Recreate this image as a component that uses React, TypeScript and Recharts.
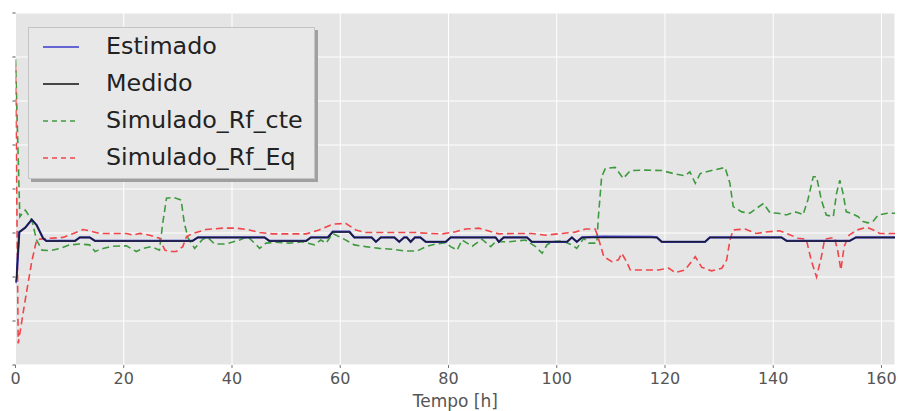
import React from 'react';
import { LineChart, Line, XAxis, YAxis, CartesianGrid, Legend } from 'recharts';

const xTicks = [0, 20, 40, 60, 80, 100, 120, 140, 160];
const yTicks = [0, 1, 2, 3, 4, 5, 6, 7, 8];

const medido: [number, number][] = [
  [0, 1.88], [0.2, 2.0], [0.7, 3.02], [1.8, 3.12], [3.0, 3.31], [3.9, 3.18], [5.1, 2.88], [5.7, 2.82],
  [11.0, 2.82], [11.9, 2.9], [13.7, 2.9], [14.7, 2.82], [32.7, 2.82], [33.7, 2.9], [46, 2.9], [46.9, 2.82],
  [53.7, 2.82], [54.6, 2.9], [57.7, 2.9], [58.6, 3.02], [61.7, 3.02], [62.6, 2.9], [65.8, 2.9], [66.6, 2.8],
  [67.5, 2.9], [70.0, 2.9], [70.9, 2.8], [71.8, 2.9], [72.3, 2.9], [73.0, 2.8], [73.8, 2.9], [74.8, 2.9],
  [75.8, 2.8], [79.5, 2.8], [80.4, 2.9], [88.7, 2.9], [89.3, 2.8], [90.2, 2.9], [94.5, 2.9], [95.4, 2.8],
  [101.9, 2.8], [102.8, 2.9], [103.7, 2.8], [104.7, 2.9], [118.5, 2.9], [119.4, 2.8], [127.4, 2.8], [128.3, 2.9],
  [141.5, 2.9], [142.5, 2.82], [154.1, 2.82], [155.3, 2.9], [162.5, 2.9],
];

const estimado: [number, number][] = [
  [0, 1.86], [0.2, 2.0], [0.7, 3.02], [1.8, 3.12], [3.0, 3.3], [3.9, 3.18], [5.1, 2.88], [5.7, 2.82],
  [11.0, 2.82], [11.9, 2.9], [13.7, 2.9], [14.7, 2.82], [32.7, 2.82], [33.7, 2.9], [46, 2.9], [46.9, 2.82],
  [53.7, 2.82], [54.6, 2.9], [57.7, 2.9], [58.6, 3.03], [61.7, 3.03], [62.6, 2.9], [65.8, 2.9], [66.6, 2.8],
  [67.5, 2.9], [70.0, 2.9], [70.9, 2.8], [71.8, 2.9], [72.3, 2.9], [73.0, 2.8], [73.8, 2.9], [74.8, 2.9],
  [75.8, 2.8], [79.5, 2.8], [80.4, 2.9], [88.7, 2.9], [89.3, 2.8], [90.2, 2.9], [94.5, 2.9], [95.4, 2.8],
  [101.9, 2.8], [102.8, 2.9], [103.7, 2.8], [104.7, 2.9], [108.5, 2.92], [117.5, 2.91], [118.5, 2.9], [119.4, 2.8],
  [127.4, 2.8], [128.3, 2.9], [141.5, 2.9], [142.5, 2.82], [154.1, 2.82], [155.3, 2.9], [162.5, 2.9],
];

const simRfCte: [number, number][] = [
  [0, 6.95], [0.8, 3.37], [1.8, 3.52], [3.0, 3.3], [3.9, 2.84], [4.9, 2.61], [6.4, 2.6], [8.2, 2.65],
  [10, 2.73], [11.9, 2.75], [13.7, 2.73], [14.7, 2.58], [16.2, 2.65], [18, 2.7], [20.5, 2.71], [22.3, 2.58],
  [23.6, 2.65], [25.1, 2.69], [26.6, 2.61], [27.2, 3.22], [27.9, 3.79], [29.1, 3.81], [30.6, 3.75], [31.2, 3.22],
  [31.9, 2.88], [33.1, 2.65], [34.6, 2.86], [35.5, 2.9], [36.8, 2.75], [38.9, 2.75], [41.4, 2.84], [42.9, 2.92],
  [44.5, 2.73], [45.1, 2.65], [46.3, 2.77], [48.1, 2.79], [50.6, 2.77], [53.1, 2.8], [55.2, 2.73], [56.4, 2.84],
  [57.4, 2.77], [58.6, 2.99], [60.7, 2.86], [62.6, 2.73], [64.7, 2.69], [67.2, 2.65], [69.6, 2.63], [72.1, 2.59],
  [74.2, 2.59], [75.8, 2.69], [77.6, 2.75], [79.5, 2.78], [80.4, 2.69], [81.6, 2.61], [82.5, 2.84], [84.4, 2.7],
  [86.2, 2.86], [87.8, 2.69], [88.7, 2.8], [91.2, 2.8], [94.2, 2.84], [96.1, 2.69], [97.3, 2.54], [98.2, 2.73],
  [99.1, 2.8], [101, 2.82], [102.8, 2.73], [103.7, 2.65], [105, 2.88], [105.9, 2.77], [107.4, 2.77], [107.7, 3.37],
  [108.3, 4.28], [109, 4.47], [110.8, 4.49], [112.3, 4.24], [113.6, 4.42], [116.3, 4.43], [119.4, 4.42], [121.9, 4.34],
  [123.7, 4.3], [124.6, 4.39], [125.6, 4.13], [126.5, 4.35], [128.6, 4.42], [131.1, 4.49], [132, 4.13], [132.6, 3.6],
  [134.2, 3.48], [135.7, 3.45], [136.9, 3.56], [138.2, 3.67], [139.4, 3.46], [140.9, 3.45], [142.4, 3.41], [144, 3.48],
  [144.9, 3.45], [145.5, 3.41], [146.4, 3.75], [147.4, 4.28], [148, 4.28], [148.9, 3.75], [149.8, 3.41], [151.1, 3.37],
  [151.7, 3.9], [152.3, 4.2], [152.9, 3.9], [153.5, 3.48], [154.4, 3.45], [155.7, 3.37], [156.6, 3.26], [157.5, 3.23],
  [158.4, 3.26], [159.4, 3.41], [161.1, 3.45], [162.5, 3.45],
];

const simRfEq: [number, number][] = [
  [0, 6.8], [0.5, 0.49], [1.8, 1.48], [3, 2.35], [3.9, 2.84], [4.5, 2.86], [6.4, 2.88], [8.8, 2.9],
  [10.7, 2.99], [12.5, 3.08], [14.3, 3.03], [15.6, 2.99], [18, 2.99], [20.5, 2.99], [21.7, 2.95], [23, 2.99],
  [24.8, 2.95], [26.6, 2.88], [27.6, 2.61], [28.5, 2.58], [29.7, 2.58], [30.9, 2.69], [31.6, 2.92], [32.8, 2.99],
  [35.2, 3.08], [38.3, 3.11], [40.8, 3.11], [43.2, 3.07], [45.1, 3.01], [47.5, 2.98], [50.6, 2.98], [53.7, 2.98],
  [56.1, 3.07], [58.6, 3.2], [61, 3.22], [62.9, 3.07], [64.7, 3.01], [69, 3.01], [74, 3.01], [76.4, 2.99],
  [78.9, 2.98], [81.3, 3.03], [83.2, 3.09], [85.6, 3.11], [88.1, 3.02], [89.3, 2.98], [92.4, 2.99], [95.4, 2.99],
  [97.9, 2.95], [101, 2.99], [103.4, 3.02], [105.3, 3.09], [107.1, 3.09], [107.7, 2.88], [108.7, 2.46], [110.2, 2.35],
  [111.4, 2.39], [112, 2.54], [112.9, 2.35], [113.6, 2.16], [116.3, 2.16], [118.8, 2.16], [120.7, 2.2], [121.9, 2.1],
  [123.7, 2.16], [125.6, 2.46], [126.8, 2.22], [128.6, 2.14], [130.5, 2.2], [131.4, 2.39], [132, 2.84], [132.6, 3.07],
  [134.8, 3.09], [136.9, 2.99], [139.1, 3.03], [141.2, 3.05], [142.5, 2.99], [144.6, 2.88], [146.1, 2.86], [147, 2.39],
  [148, 2.0], [148.9, 2.46], [149.5, 2.86], [151.3, 2.9], [151.9, 2.61], [152.5, 2.16], [153.1, 2.69], [154, 2.95],
  [155.5, 3.07], [157.3, 3.13], [158.5, 3.07], [159.7, 2.99], [162.5, 2.99],
];

const toRows = (pairs: [number, number][]) => pairs.map(([t, v]) => ({ t, v }));

const FONT = '"DejaVu Sans", sans-serif';

const legendItems = [
  { name: 'Estimado', color: '#3a3acc', dash: '' },
  { name: 'Medido', color: '#111111', dash: '' },
  { name: 'Simulado_Rf_cte', color: '#3f9a3f', dash: '5 4' },
  { name: 'Simulado_Rf_Eq', color: '#f0454a', dash: '5 4' },
];

const LegendBox = () => (
  <div
    style={{
      width: 287,
      height: 152,
      background: '#e8e8e8',
      border: '1px solid #c4c4c4',
      boxShadow: '3px 3px 0 #a0a0a0',
      boxSizing: 'border-box',
      fontFamily: FONT,
    }}
  >
    {legendItems.map((it) => (
      <div key={it.name} style={{ height: 37, display: 'flex', alignItems: 'center' }}>
        <svg width={36} height={6} style={{ marginLeft: 14 }}>
          <line x1={0} y1={3} x2={36} y2={3} stroke={it.color} strokeWidth={1.5} strokeDasharray={it.dash || undefined} />
        </svg>
        <span style={{ marginLeft: 27, fontSize: 23.8, color: '#222', lineHeight: '37px', whiteSpace: 'nowrap' }}>{it.name}</span>
      </div>
    ))}
  </div>
);

const noTick = () => <g />;

export default function App() {
  return (
    <div style={{ position: 'absolute', left: 0, top: 0 }}>
      <style>{'body{margin:0}'}</style>
      <LineChart width={898} height={411} margin={{ top: 13, right: 0, bottom: 0, left: 0 }}>
        <CartesianGrid fill="#e5e5e5" stroke="#ffffff" strokeWidth={1} />
        <XAxis
          type="number"
          dataKey="t"
          domain={[0, 162.5]}
          ticks={xTicks}
          allowDataOverflow
          height={46}
          axisLine={false}
          tickSize={3}
          tickLine={{ stroke: '#777' }}
          tickMargin={5}
          tick={{ fill: '#555', fontSize: 16, fontFamily: FONT }}
          label={{ value: 'Tempo [h]', position: 'insideBottom', offset: 4, fill: '#555', fontSize: 17, fontFamily: FONT }}
        />
        <XAxis
          xAxisId="top"
          orientation="top"
          type="number"
          dataKey="t"
          domain={[0, 162.5]}
          ticks={xTicks}
          allowDataOverflow
          height={0}
          axisLine={false}
          tickSize={3}
          tickLine={{ stroke: '#777' }}
          tick={noTick}
        />
        <YAxis
          type="number"
          domain={[0, 8]}
          ticks={yTicks}
          allowDataOverflow
          width={15.5}
          axisLine={false}
          tickSize={3}
          tickLine={{ stroke: '#555' }}
          tick={noTick}
        />
        <YAxis
          yAxisId="right"
          orientation="right"
          type="number"
          domain={[0, 8]}
          ticks={yTicks}
          width={3}
          axisLine={false}
          tickSize={3}
          tickLine={{ stroke: '#777' }}
          tick={noTick}
        />
        <Legend
          layout="horizontal"
          verticalAlign="middle"
          align="center"
          content={<LegendBox />}
          wrapperStyle={{ left: 28, top: 27, width: 'auto', height: 'auto' }}
        />
        <Line data={toRows(simRfCte)} dataKey="v" name="Simulado_Rf_cte" type="linear" stroke="#3f9a3f" strokeWidth={1.6} strokeDasharray="7 4" dot={false} activeDot={false} isAnimationActive={false} />
        <Line data={toRows(simRfEq)} dataKey="v" name="Simulado_Rf_Eq" type="linear" stroke="#f0454a" strokeWidth={1.6} strokeDasharray="7 4" dot={false} activeDot={false} isAnimationActive={false} />
        <Line data={toRows(estimado)} dataKey="v" name="Estimado" type="linear" stroke="#3a3acc" strokeWidth={2.2} dot={false} activeDot={false} isAnimationActive={false} />
        <Line data={toRows(medido)} dataKey="v" name="Medido" type="linear" stroke="#1c1c2c" strokeWidth={1.5} dot={false} activeDot={false} isAnimationActive={false} />
      </LineChart>
    </div>
  );
}
